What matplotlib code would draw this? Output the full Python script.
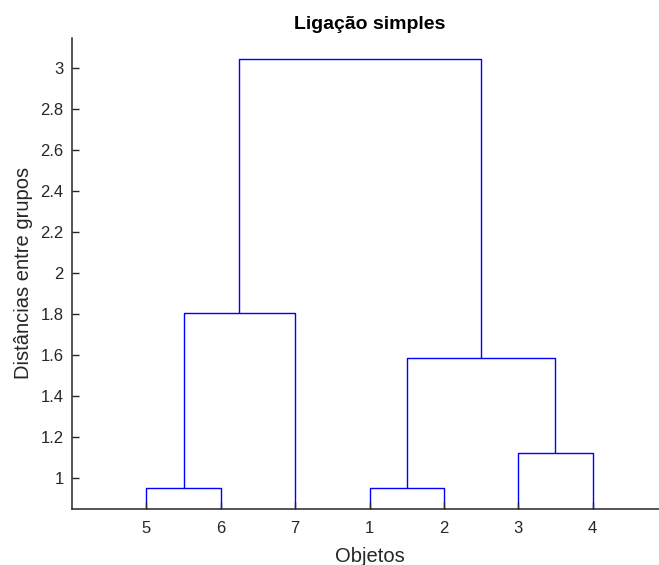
import numpy as np
import matplotlib.pyplot as plt

plt.rcParams['font.family'] = ['Liberation Sans', 'DejaVu Sans']

# Leaf order along the x axis and their labels
leaf_order = [5, 6, 7, 1, 2, 3, 4]

# Single-linkage merges: (cluster a, cluster b, distance); new clusters get ids 8, 9, ...
merges = [
    (5, 6, 0.9487),
    (1, 2, 0.9487),
    (3, 4, 1.1180),
    (9, 10, 1.5811),
    (8, 7, 1.8028),
    (12, 11, 3.0414),
]

y_ticks = [1, 1.2, 1.4, 1.6, 1.8, 2, 2.2, 2.4, 2.6, 2.8, 3]

# x position and current top height of each cluster
xpos = {leaf: i + 1 for i, leaf in enumerate(leaf_order)}
top = {leaf: 0.0 for leaf in leaf_order}

fig = plt.figure(figsize=(6.59, 5.65), dpi=100)
ax = fig.add_axes([72 / 659, 1 - 508.5 / 565, (667 - 72) / 659, (508.5 - 38) / 565])

line_kw = dict(color=(0, 0, 1), lw=1.0, solid_capstyle='butt', zorder=1)
new_id = len(leaf_order) + 1
for a, b, d in merges:
    xa, xb = xpos[a], xpos[b]
    ax.plot([xa, xa, xb, xb], [top[a], d, d, top[b]], **line_kw)
    xpos[new_id] = (xa + xb) / 2
    top[new_id] = d
    new_id += 1

ax.set_xlim(0, 8)
ax.set_ylim(0.849, 3.145)
ax.set_xticks(range(1, len(leaf_order) + 1))
ax.set_xticklabels([str(v) for v in leaf_order])
ax.set_yticks(y_ticks)
ax.set_yticklabels([f'{v:g}' for v in y_ticks])

dark = (0.15, 0.15, 0.15)
for side in ('top', 'right'):
    ax.spines[side].set_visible(False)
for side in ('left', 'bottom'):
    ax.spines[side].set_color(dark)
    ax.spines[side].set_linewidth(1.1)
ax.tick_params(direction='in', length=5, width=1.0, color=dark,
               labelcolor=dark, labelsize=12, pad=9)
ax.tick_params(axis='y', pad=6)

ax.set_title('Ligação simples', fontsize=14, fontweight='bold', pad=6.5)
ax.set_xlabel('Objetos', fontsize=14.5, color=dark, labelpad=8)
ax.set_ylabel('Distâncias entre grupos', fontsize=14.5, color=dark, labelpad=5)

fig.savefig('out.png', dpi=100)
